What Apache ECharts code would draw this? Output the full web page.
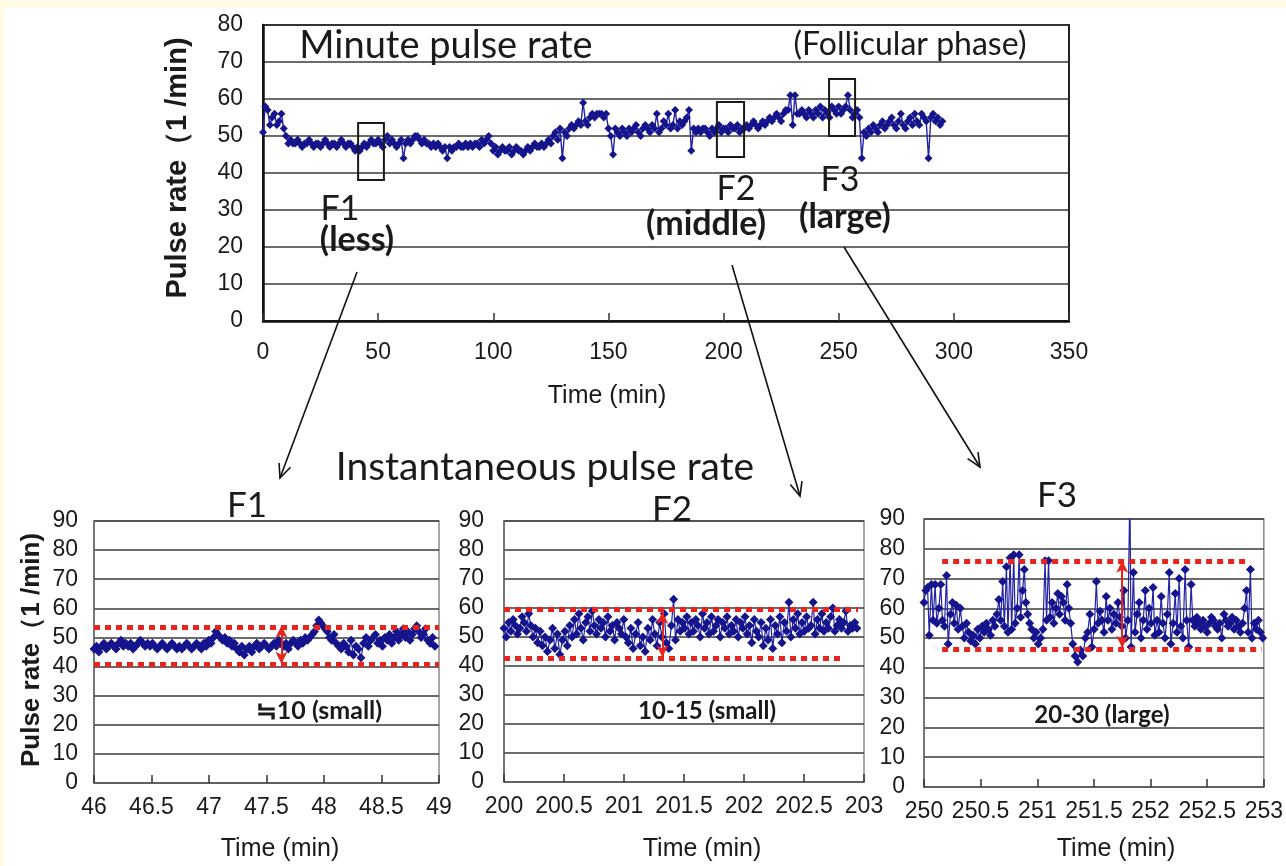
<!DOCTYPE html>
<html><head><meta charset="utf-8">
<script src="https://cdn.jsdelivr.net/npm/echarts@6/dist/echarts.min.js"></script>
<style>html,body{margin:0;padding:0;background:#fff}#c{width:1286px;height:866px}</style>
</head><body><div id="c"></div><script>
// ---- data ----
const mainMinuteRate = [
51,58,57,53,55,56,53,54,56,52,
50,48,49,48,48,49,48,47,48,48,
49,48,47,48,48,47,48,49,48,47,
48,48,47,48,49,48,47,48,48,47,
46,47,46,47,48,47,48,49,48,48,
49,48,47,49,50,48,49,48,47,48,
49,44,48,49,48,49,50,50,49,48,
49,48,48,47,48,47,48,47,46,47,
44,47,46,47,47,48,47,47,48,47,
48,47,48,48,47,49,48,49,50,48,
46,47,45,46,47,46,46,47,45,46,
47,46,46,45,46,47,46,47,48,47,
47,48,47,48,49,48,50,51,49,52,
44,51,50,52,53,52,53,54,53,59,
54,53,55,56,55,56,56,56,55,56,
52,50,45,52,51,50,52,51,50,52,
51,52,53,51,50,52,53,52,51,53,
52,56,51,52,54,53,56,52,53,57,
52,54,53,54,55,57,46,52,51,52,
51,52,52,51,50,52,51,52,53,51,
52,52,51,53,52,52,53,51,52,52,
53,52,53,54,53,52,53,54,53,54,
55,54,55,56,55,54,56,57,57,61,
53,61,56,56,57,56,55,57,56,55,
57,56,58,55,57,56,55,58,57,56,
58,56,57,58,61,57,55,56,57,55,
44,51,50,52,51,53,52,51,53,54,
52,53,54,55,53,52,54,56,53,52,
54,55,53,56,54,53,56,55,54,44,
55,56,54,55,53,54];

const f1Start = 46;
const f1Rate = [
46,47,45,47,48,46,47,48,47,46,48,49,47,48,47,48,46,47,48,49,48,47,48,47,
48,47,46,47,48,47,46,47,48,47,46,47,46,47,48,47,46,47,48,47,46,48,47,49,
48,50,52,51,50,49,50,48,49,47,48,46,45,47,44,46,47,45,47,48,46,47,48,47,
46,47,48,47,49,48,47,48,46,48,49,48,47,49,48,50,49,50,51,52,54,56,55,54,
53,52,50,49,51,48,47,46,48,47,45,49,44,47,46,43,48,50,47,49,50,51,48,49,
47,50,49,51,48,50,52,49,51,53,50,52,49,51,53,54,52,50,51,53,49,48,50,47];

const f2Start = 200;
const f2Rate = [
53,50,55,52,56,54,51,53,57,55,52,58,54,50,53,48,52,47,50,45,49,53,46,51,44,49,
52,47,54,50,56,51,58,53,49,55,57,52,59,54,51,56,53,55,50,57,52,54,49,55,53,51,
56,50,48,53,46,51,55,47,50,45,53,49,56,51,47,55,50,58,48,46,54,63,49,56,52,55,
53,57,51,55,52,56,54,50,58,53,55,51,57,52,54,56,50,55,53,57,51,54,52,56,50,55,
53,57,51,54,48,56,52,50,55,47,53,49,56,46,54,51,57,48,55,52,62,50,56,53,58,51,
55,52,57,53,54,62,51,56,53,58,52,55,53,57,60,52,54,56,53,55,59,52,54,53,55,53];

const f3Start = 250;
const f3Rate = [
62,66,67,51,68,56,68,55,60,68,56,54,71,48,58,62,55,61,53,60,54,50,55,52,49,51,48,53,
50,54,52,55,53,51,56,54,58,63,56,69,54,74,52,77,53,78,55,60,78,57,66,73,62,58,55,53,50,52,
48,50,53,76,56,76,57,62,55,60,65,58,64,62,56,68,60,55,48,44,42,46,44,50,52,58,47,53,
69,55,59,56,52,64,56,60,53,58,55,62,57,54,66,50,56,100,47,72,52,58,62,50,56,66,53,60,55,
67,51,56,52,64,55,50,58,72,48,55,65,52,70,54,50,73,56,47,68,56,54,57,55,53,56,54,52,
55,57,56,54,53,55,50,58,56,54,55,57,53,56,54,52,55,60,66,52,73,50,55,53,56,52,50,51];

// boxes in the minute chart: [x1, y1, x2, y2]
const boxF1 = [41.3, 53.5, 52.5, 38.1];
const boxF2 = [197.1, 59.2, 208.9, 44.3];
const boxF3 = [245.8, 65.4, 257.1, 50.0];

// range bands (red dotted) and arrows in the instantaneous charts
const f1Band = {hi: 53.6, lo: 40.9, hiX: [46, 49], loX: [46, 49], arrowX: 47.63, arrow: [41, 54]};
const f2Band = {hi: 59.6, lo: 42.6, hiX: [200, 202.95], loX: [200, 202.84], arrowX: 201.32, arrow: [43, 58.6]};
const f3Band = {hi: 75.8, lo: 46.2, hiX: [250.16, 252.88], loX: [250.16, 252.98], arrowX: 251.75, arrow: [46.8, 76]};

// ---- build ----
const mainData = mainMinuteRate.map((v, i) => [i, v]);
function beats(start, rates) { // beat times from successive instantaneous rates (60/RR)
  let t = start; return rates.map(r => { const p = [t, r]; t += 1 / r; return p; });
}
const NAVY = '#14148c';
const RED = '#e8251c';
const TICKFONT = "'Liberation Sans',Arimo,sans-serif";
const TXT = "Lato,'Open Sans',sans-serif";

const chart = echarts.init(document.getElementById('c'), null, {renderer: 'canvas'});

const grids = [
  {left: 263, top: 25, width: 806, height: 296, show: true, borderColor: '#222', borderWidth: 2, backgroundColor: 'transparent'},
  {left: 94, top: 521, width: 345, height: 262, show: true, borderColor: '#8a8a8a', borderWidth: 1.5},
  {left: 504, top: 521, width: 360, height: 261, show: true, borderColor: '#8a8a8a', borderWidth: 1.5},
  {left: 924, top: 519, width: 340, height: 268, show: true, borderColor: '#8a8a8a', borderWidth: 1.5}
];
function xAx(g, min, max, interval, margin) {
  return {type: 'value', gridIndex: g, min, max, interval,
    axisLine: {show: true, onZero: false, lineStyle: {color: g === 0 ? '#111' : '#666', width: g === 0 ? 2.5 : 1.5}},
    axisTick: {show: true, inside: true, length: 8, lineStyle: {color: '#333', width: 1.5}},
    splitLine: {show: false},
    axisLabel: {fontSize: 23, color: '#1a1a1a', margin, fontFamily: TICKFONT}};
}
function yAx(g, max, margin) {
  return {type: 'value', gridIndex: g, min: 0, max, interval: 10,
    axisLine: {show: true, lineStyle: {color: g === 0 ? '#111' : '#666', width: g === 0 ? 2.5 : 1.5}},
    axisTick: {show: false},
    splitLine: {show: true, lineStyle: {color: '#3a3a3a', width: 1.5}},
    axisLabel: {fontSize: 23, color: '#1a1a1a', margin, fontFamily: TICKFONT}};
}
function bandLines(b) {
  const dot = {color: RED, width: 5, type: [6, 5], cap: 'butt'};
  return [
    [{coord: [b.hiX[0], b.hi], lineStyle: dot}, {coord: [b.hiX[1], b.hi]}],
    [{coord: [b.loX[0], b.lo], lineStyle: dot}, {coord: [b.loX[1], b.lo]}],
    [{coord: [b.arrowX, b.arrow[0]], symbol: 'arrow', symbolSize: [9, 12], lineStyle: {color: RED, width: 2, type: 'solid'}},
     {coord: [b.arrowX, b.arrow[1]], symbol: 'arrow', symbolSize: [9, 12]}]
  ];
}
function subSeries(idx, data, band) {
  return {type: 'line', xAxisIndex: idx, yAxisIndex: idx, data, clip: true,
    symbol: 'diamond', symbolSize: 9, showSymbol: true,
    lineStyle: {color: '#2323a8', width: 1.2}, itemStyle: {color: NAVY},
    animation: false, z: 3,
    markLine: {silent: true, symbol: ['none', 'none'], label: {show: false}, animation: false, z: 5, data: bandLines(band)}};
}
function box(b) { return [{coord: [b[0], b[1]]}, {coord: [b[2], b[3]]}]; }

// graphics: annotation texts & connector arrows
function txt(x, y, text, size, opt = {}) {
  return {type: 'text', x, y, rotation: opt.rot || 0, z: 20,
    style: {text, fontSize: size, fontFamily: opt.font || TXT, fontWeight: opt.bold ? 'bold' : 'normal',
      fill: opt.color || '#1a1a1a', align: 'center', verticalAlign: 'middle', textAlign: 'center', textVerticalAlign: 'middle'}};
}
function arrow(x0, y0, x1, y1) {
  const a = Math.atan2(y1 - y0, x1 - x0), L = 15, w = 0.42;
  const h1 = [x1 - L * Math.cos(a - w), y1 - L * Math.sin(a - w)];
  const h2 = [x1 - L * Math.cos(a + w), y1 - L * Math.sin(a + w)];
  return [
    {type: 'line', z: 20, shape: {x1: x0, y1: y0, x2: x1, y2: y1}, style: {stroke: '#111', lineWidth: 1.6}},
    {type: 'polyline', z: 20, shape: {points: [h1, [x1, y1], h2]}, style: {stroke: '#111', lineWidth: 1.6, fill: null}}
  ];
}
const YFONT = "'Liberation Sans',sans-serif";
const graphics = [
  {type: 'rect', z: -10, shape: {x: 0, y: 0, width: 1286, height: 8}, style: {fill: '#fffbe4'}},
  {type: 'rect', z: -10, shape: {x: 0, y: 0, width: 4, height: 866}, style: {fill: '#fffbe4'}},
  txt(446, 46, 'Minute pulse rate', 38),
  txt(910, 45, '(Follicular phase)', 32),
  txt(178, 168, 'Pulse rate（1 /min)', 29, {bold: true, rot: Math.PI / 2, font: YFONT}),
  txt(607, 396, 'Time (min)', 25, {font: TICKFONT}),
  txt(340, 209, 'F1', 34), txt(357, 240, '(less)', 34, {bold: true}),
  txt(736, 189, 'F2', 34), txt(706, 224, '(middle)', 34, {bold: true}),
  txt(840, 180, 'F3', 34), txt(845, 217, '(large)', 34, {bold: true}),
  txt(545, 467, 'Instantaneous pulse rate', 39),
  txt(247, 506, 'F1', 35), txt(672, 510, 'F2', 35), txt(1057, 496, 'F3', 35),
  txt(32, 650, 'Pulse rate（1 /min)', 26, {bold: true, rot: Math.PI / 2, font: YFONT}),
  txt(280, 849, 'Time (min)', 25, {font: TICKFONT}),
  txt(702, 849, 'Time (min)', 25, {font: TICKFONT}),
  txt(1116, 849, 'Time (min)', 25, {font: TICKFONT}),
  txt(319, 711, '≒10 (small)', 25, {bold: true}),
  txt(707, 711, '10-15 (small)', 24, {bold: true}),
  txt(1102, 715, '20-30 (large)', 24, {bold: true}),
  ...arrow(357, 272, 280, 478),
  ...arrow(732, 265, 800, 496),
  ...arrow(844, 247, 980, 467)
];

chart.setOption({
  backgroundColor: '#ffffff',
  animation: false,
  grid: grids,
  xAxis: [xAx(0, 0, 350, 50, 20), xAx(1, 46, 49, 0.5, 13), xAx(2, 200, 203, 0.5, 13), xAx(3, 250, 253, 0.5, 13)],
  yAxis: [yAx(0, 80, 20), yAx(1, 90, 16), yAx(2, 90, 20), yAx(3, 90, 19)],
  series: [
    {type: 'line', xAxisIndex: 0, yAxisIndex: 0, data: mainData, symbol: 'diamond', symbolSize: 8,
      lineStyle: {color: '#2323a8', width: 1.4}, itemStyle: {color: NAVY}, z: 3,
      markArea: {silent: true, z: 6, itemStyle: {color: 'rgba(0,0,0,0)', borderColor: '#1a1a1a', borderWidth: 2},
        data: [box(boxF1), box(boxF2), box(boxF3)]}},
    subSeries(1, beats(f1Start, f1Rate), f1Band),
    subSeries(2, beats(f2Start, f2Rate), f2Band),
    subSeries(3, beats(f3Start, f3Rate), f3Band)
  ],
  graphic: graphics
});
</script></body></html>
